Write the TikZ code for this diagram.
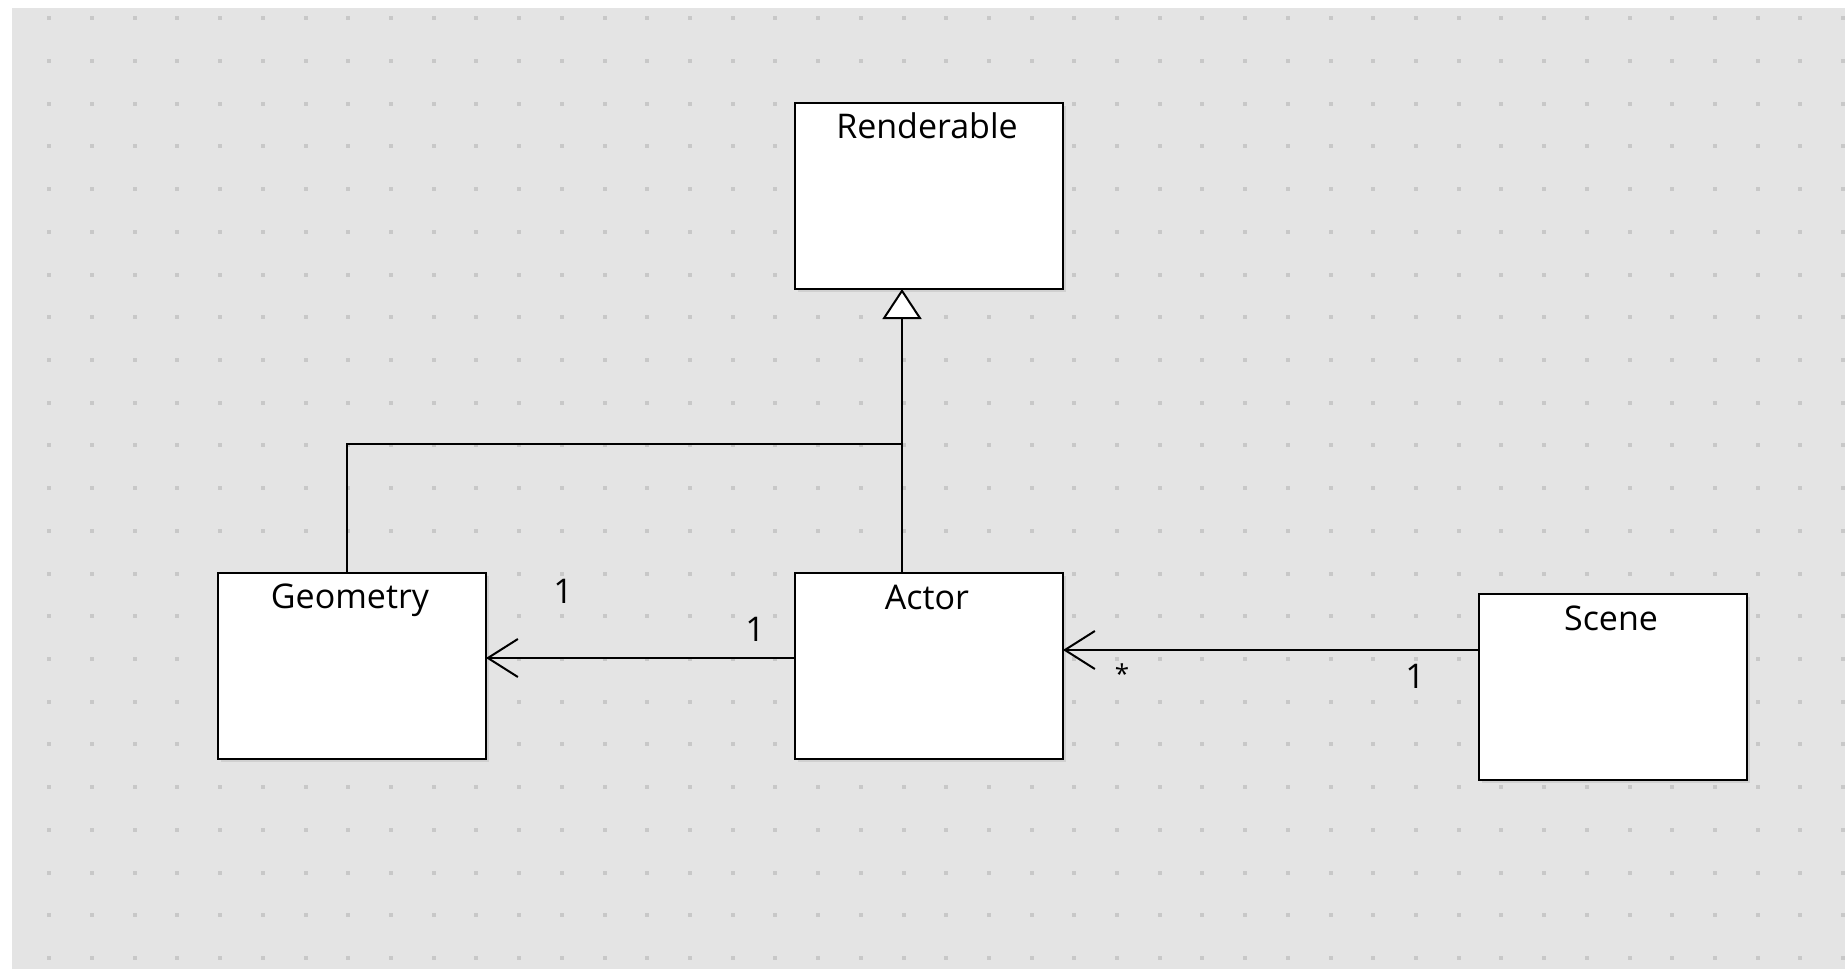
\documentclass[tikz,border=0pt]{standalone}
\usepackage{fontspec}
\setmainfont{Open Sans}
\usetikzlibrary{arrows.meta}
\definecolor{canvasgrey}{HTML}{E4E4E4}
\definecolor{dotgrey}{HTML}{C8C8C8}
\definecolor{shadowgrey}{HTML}{C4C4C4}
\tikzset{
  classbox/.style={draw=black, line width=2.4pt, fill=white, minimum width=268pt, minimum height=186pt, inner sep=0pt, outer sep=0pt},
  classname/.style={font=\fontsize{34}{40}\selectfont, anchor=base, inner sep=0pt},
  mult/.style={font=\fontsize{34}{40}\selectfont, anchor=base, inner sep=0pt},
  conn/.style={draw=black, line width=2.2pt},
  gen/.style={conn, -{Triangle[open, length=30pt, width=39pt, fill=white, line width=2pt]}},
  assoc/.style={conn, -{Straight Barb[length=30pt, width=38pt, line width=2pt]}},
}
\begin{document}
\begin{tikzpicture}[x=1pt, y=-1pt]
\useasboundingbox (0,0) rectangle (1845,969);
\fill[white] (0,0) rectangle (1845,969);
\fill[canvasgrey] (12,8) rectangle (1845,969);
\foreach \i in {0,...,42}{
  \foreach \j in {0,...,22}{
    \fill[dotgrey] ({49.3+42.71*\i-2},{18.3+42.71*\j-2}) rectangle ++(4,4);
  }
}
% shadows
\foreach \cx/\cy in {929/196, 352/666, 929/666, 1613/687}{
  \fill[shadowgrey, opacity=0.6] ({\cx-134+3},{\cy-93+3}) rectangle ({\cx+134+3},{\cy+93+3});
}
% class boxes
\node[classbox] (renderable) at (929,196) {};
\node[classbox] (geometry) at (352,666) {};
\node[classbox] (actor) at (929,666) {};
\node[classbox] (scene) at (1613,687) {};
% class names
\node[classname] (tRenderable) at (927,138) {Renderable};
\node[classname] (tGeometry) at (350,608) {Geometry};
\node[classname] (tActor) at (927,609) {Actor};
\node[classname] (tScene) at (1611,630) {Scene};
% generalization
\coordinate (j) at (902,444);
\coordinate (gtop) at (347,444);
\draw[conn] ([xshift=-27pt]actor.north) -- (j);
\draw[conn] ([xshift=-5pt]geometry.north) -- (gtop) -- (j);
\draw[gen] (j) -- ([xshift=-27pt]renderable.south);
% associations
\draw[assoc] ([yshift=8pt]actor.west) -- ([yshift=8pt]geometry.east);
\draw[assoc] ([yshift=37pt]scene.west) -- ([yshift=16pt]actor.east);
% multiplicities
\node[mult] (m1) at (563,603) {1};
\node[mult] (m2) at (755,641) {1};
\node[mult] (m3) at (1415,688) {1};
\node[font=\fontsize{26}{30}\selectfont, inner sep=0pt] (m4) at (1122,674) {*};
\end{tikzpicture}
\end{document}
